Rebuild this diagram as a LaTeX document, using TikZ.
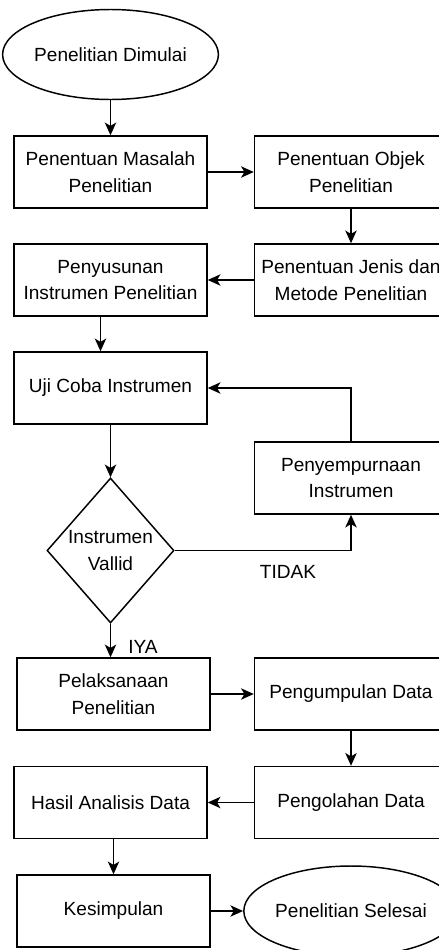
\documentclass[tikz,border=0pt]{standalone}
\usepackage{fontspec}
\setmainfont{Liberation Sans}
\usetikzlibrary{shapes.geometric, arrows.meta, positioning}

\begin{document}
\begin{tikzpicture}[
  x=0.75pt, y=-0.75pt,
  every node/.style={font=\fontsize{14.3}{20}\selectfont},
  pbox/.style={draw, line width=1.1pt, minimum width=144.75pt, minimum height=54pt, align=center, inner sep=0pt},
  pterm/.style={draw, ellipse, line width=1.1pt, minimum width=144.75pt, minimum height=67.5pt, inner sep=0pt},
  pdec/.style={draw, diamond, line width=1.1pt, aspect=0.876, inner sep=0pt, minimum width=95.25pt, minimum height=108.75pt, align=center},
  arr/.style={-{Stealth[length=9.5pt, width=8.5pt, inset=2.5pt]}, line width=1.1pt}
]
  \useasboundingbox (0,0) rectangle (439,950);

  \node[pterm] (mulai) at (110.5,54.5) {Penelitian Dimulai};
  \node[pbox] (masalah) at (110.5,172) {Penentuan Masalah\\Penelitian};
  \node[pbox] (objek) at (351,172) {Penentuan Objek\\Penelitian};
  \node[pbox] (susun) at (110.5,280) {Penyusunan\\Instrumen Penelitian};
  \node[pbox] (metode) at (351,280) {Penentuan Jenis dan\\Metode Penelitian};
  \node[pbox] (uji) at (110.5,388) {Uji Coba Instrumen};
  \node[pbox] (sempurna) at (351,478) {Penyempurnaan\\Instrumen};
  \node[pdec] (valid) at (110.5,550.5) {Instrumen\\Vallid};
  \node[pbox] (laksana) at (113.5,694) {Pelaksanaan\\Penelitian};
  \node[pbox] (kumpul) at (351,694) {Pengumpulan Data};
  \node[pbox] (olah) at (351,802.5) {Pengolahan Data};
  \node[pbox] (hasil) at (110.5,802.5) {Hasil Analisis Data};
  \node[pbox] (simpul) at (113.5,911) {Kesimpulan};
  \node[pterm] (selesai) at (351,911) {Penelitian Selesai};
  \node (tidak) at (288,572) {TIDAK};
  \node (iya) at (143,647) {IYA};

  \draw[arr] (mulai) -- (masalah);
  \draw[arr] (masalah) -- (objek);
  \draw[arr] (objek) -- (metode);
  \draw[arr] (metode) -- (susun);
  \draw[arr] ([xshift=-7.5pt]susun.south) -- ([xshift=-7.5pt]uji.north);
  \draw[arr] (uji) -- (valid);
  \draw[arr] (valid.east) -| (sempurna.south);
  \draw[arr] (sempurna.north) |- (uji.east);
  \draw[arr] (valid.south) -- (valid.south |- laksana.north);
  \draw[arr] (laksana) -- (kumpul);
  \draw[arr] (kumpul) -- (olah);
  \draw[arr] (olah) -- (hasil);
  \draw[arr] (simpul.north |- hasil.south) -- (simpul.north);
  \draw[arr] (simpul) -- (selesai);
\end{tikzpicture}
\end{document}
